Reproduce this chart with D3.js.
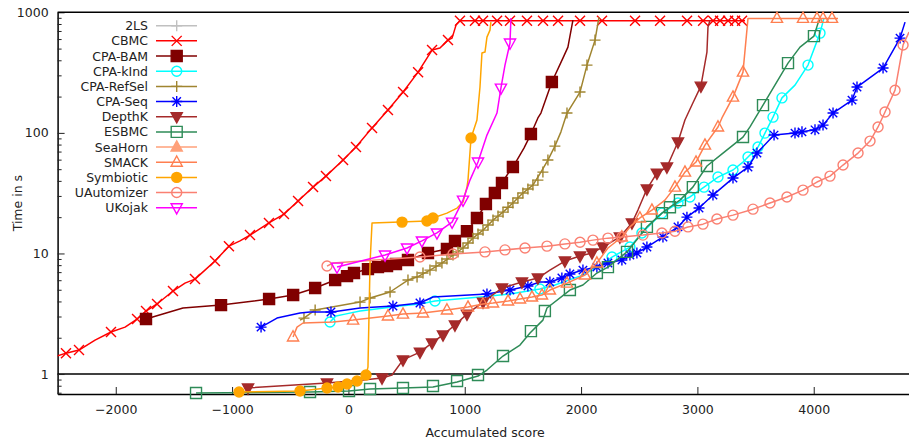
<!DOCTYPE html>
<html><head><meta charset="utf-8">
<script src="https://cdn.jsdelivr.net/npm/d3@7"></script>
<style>
body{margin:0;background:#fff;}
text{font-family:"DejaVu Sans",sans-serif;fill:#222;}
</style>
</head><body>
<svg id="chart" width="909" height="444"></svg>
<script>
const toolNames = ["2LS","CBMC","CPA-BAM","CPA-kInd","CPA-RefSel","CPA-Seq","DepthK","ESBMC","SeaHorn","SMACK","Symbiotic","UAutomizer","UKojak"];
const toolColors = ["#c0c0c0","#ff0000","#800000","#00ffff","#a08530","#0000ff","#a52a2a","#2e8b57","#ffa07a","#ff7f50","#ffa500","#fa8072","#ff00ff"];
const toolSymbols = ["plus","cross","squareF","circle","plus","star","triDownF","square","triUpF","triUp","circleF","circle","triDown"];
const xTickValues = [-2000,-1000,0,1000,2000,3000,4000];
const yTickValues = [1,10,100,1000];
const yMinorTicks = [0.7,0.8,0.9,2,3,4,5,6,7,8,9,20,30,40,50,60,70,80,90,200,300,400,500,600,700,800,900];

// [accumulated score, time in s]
const twoLsLine = [];
const twoLsMarks = [];
const cbmcLine = [[-2505,1.41],[-2428,1.49],[-2316,1.58],[-2178,1.91],[-2041,2.23],[-1920,2.45],[-1817,2.86],[-1740,3.33],[-1645,3.81],[-1508,4.88],[-1405,5.68],[-1319,6.13],[-1233,7.28],[-1147,8.65],[-1027,11.5],[-932,12.7],[-846,14.2],[-683,17.9],[-554,21.2],[-433,27.2],[-304,35.5],[-193,43.8],[-46,59.5],[65,76.3],[203,110],[340,155],[470,218],[599,319],[719,486],[787,505],[856,588],[891,611],[925,783],[959,850],[3409,850]];
const cbmcMarks = [[-2428,1.49],[-2316,1.58],[-2041,2.23],[-1817,2.86],[-1740,3.33],[-1645,3.81],[-1508,4.88],[-1319,6.13],[-1147,8.65],[-1027,11.5],[-846,14.2],[-683,17.9],[-554,21.2],[-433,27.2],[-304,35.5],[-193,43.8],[-46,59.5],[65,76.3],[203,110],[340,155],[470,218],[599,319],[719,486],[856,588],[959,850],[1088,850],[1157,850],[1278,850],[1389,850],[1535,850],[1673,850],[1802,850],[1991,850],[2180,850],[2464,850],[2679,850],[2911,850],[3049,850],[3135,850],[3195,850],[3264,850],[3324,850],[3384,850]];
const bamLine = [[-1740,2.86],[-1422,3.53],[-1095,3.73],[-682,4.19],[-475,4.52],[-286,5.17],[-114,6.02],[-12,6.49],[48,6.88],[168,7.42],[254,7.71],[332,7.86],[409,8.17],[512,8.82],[684,10.1],[847,10.9],[916,12.7],[1019,15.3],[1105,19.7],[1182,25.7],[1259,31.7],[1320,38.4],[1380,47.3],[1414,52.1],[1449,59.5],[1509,74.8],[1569,97.8],[1629,133],[1655,146],[1749,264],[1844,417],[1887,514],[1930,861]];
const bamMarks = [[-1740,2.86],[-1095,3.73],[-682,4.19],[-475,4.52],[-286,5.17],[-114,6.02],[-12,6.49],[48,6.88],[168,7.42],[254,7.71],[332,7.86],[409,8.17],[512,8.82],[684,10.1],[847,10.9],[916,12.7],[1019,15.3],[1105,19.7],[1182,25.7],[1259,31.7],[1320,38.4],[1414,52.1],[1569,97.8],[1749,264]];
const kindLine = [[-158,2.70],[-107,3.03],[-29,3.14],[100,3.33],[444,3.66],[615,3.81],[744,4.03],[1131,4.35],[1389,4.61],[1646,5.07],[1775,5.47],[1991,6.49],[2163,7.86],[2266,9.34],[2420,11.3],[2523,14.8],[2695,21.6],[2833,26.2],[2936,29.4],[3057,35.5],[3177,43.0],[3306,49.2],[3392,57.3],[3435,63.0],[3521,76.3],[3581,99.6],[3650,135],[3727,195],[3839,249],[3951,365],[4054,672],[4088,895]];
const kindMarks = [[-158,2.70],[744,4.03],[1646,5.07],[2266,9.34],[2420,11.3],[2523,14.8],[2695,21.6],[2833,26.2],[2936,29.4],[3057,35.5],[3177,43.0],[3306,49.2],[3435,63.0],[3521,76.3],[3581,99.6],[3650,135],[3727,195],[3951,365],[4054,672]];
const refselLine = [[-416,2.80],[-382,2.91],[-286,3.40],[-141,3.59],[100,3.95],[186,4.27],[358,4.79],[512,6.02],[590,6.37],[701,7.28],[804,8.33],[899,9.70],[985,11.1],[1071,13.4],[1157,15.6],[1243,18.9],[1329,22.0],[1414,26.2],[1500,31.7],[1586,36.9],[1655,47.3],[1715,59.5],[1775,77.7],[1827,102],[1879,146],[1991,218],[2051,365],[2120,588],[2154,912]];
const refselMarks = [[-382,2.91],[-286,3.40],[100,3.95],[186,4.27],[358,4.79],[512,6.02],[590,6.37],[641,6.88],[701,7.28],[753,7.86],[804,8.33],[847,8.99],[899,9.70],[942,10.3],[985,11.1],[1028,12.2],[1071,13.4],[1114,14.5],[1157,15.6],[1200,17.2],[1243,18.9],[1286,20.4],[1329,22.0],[1372,24.2],[1414,26.2],[1457,28.8],[1500,31.7],[1543,34.2],[1586,36.9],[1629,40.6],[1672,47.3],[1715,59.5],[1775,77.7],[1879,146],[1991,218],[2051,365],[2120,588]];
const seqLine = [[-751,2.45],[-614,2.91],[-416,3.21],[-330,3.27],[-141,3.27],[100,3.53],[383,3.66],[615,3.88],[727,4.35],[1191,4.61],[1389,4.97],[1543,5.37],[1646,5.79],[1732,5.79],[1835,6.25],[1904,6.75],[2016,7.28],[2136,7.71],[2231,8.33],[2351,8.82],[2420,9.70],[2480,10.1],[2566,11.3],[2704,13.7],[2833,16.6],[2910,20.0],[3014,23.8],[3134,30.5],[3306,42.2],[3435,52.1],[3512,68.0],[3659,95.9],[3839,99.6],[3899,102],[4011,106],[4080,116],[4166,146],[4329,187],[4372,240],[4596,345],[4742,611],[4785,829]];
const seqMarks = [[-751,2.45],[-150,3.27],[383,3.66],[615,3.88],[1191,4.61],[1389,4.97],[1543,5.37],[1732,5.79],[1835,6.25],[1904,6.75],[2016,7.28],[2136,7.71],[2231,8.33],[2351,8.82],[2420,9.70],[2480,10.1],[2566,11.3],[2704,13.7],[2833,16.6],[2910,20.0],[3014,23.8],[3134,30.5],[3306,42.2],[3435,52.1],[3512,68.0],[3659,95.9],[3839,99.6],[3899,102],[4011,106],[4080,116],[4166,146],[4329,187],[4372,240],[4596,345],[4742,611]];
const depthkLine = [[-889,0.765],[-184,0.842],[126,0.892],[289,0.927],[375,0.981],[469,1.31],[615,1.52],[719,1.81],[813,2.11],[916,2.55],[1019,3.14],[1157,3.95],[1320,5.17],[1492,5.79],[1629,6.25],[1732,7.28],[1861,8.65],[1991,9.52],[2094,10.1],[2188,11.3],[2334,13.7],[2437,17.9],[2489,22.9],[2566,34.2],[2652,46.4],[2738,52.1],[2833,83.9],[2893,128],[2961,177],[3030,244],[3082,468],[3091,754],[3108,861]];
const depthkMarks = [[-863,0.765],[-184,0.842],[289,0.927],[469,1.31],[615,1.52],[719,1.81],[813,2.11],[916,2.55],[1019,3.14],[1157,3.95],[1320,5.17],[1492,5.79],[1629,6.25],[1861,8.65],[1991,9.52],[2094,10.1],[2188,11.3],[2334,13.7],[2437,17.9],[2566,34.2],[2652,46.4],[2738,52.1],[2833,83.9],[3030,244]];
const esbmcLine = [[-1310,0.696],[-330,0.709],[5,0.723],[186,0.751],[469,0.765],[727,0.780],[934,0.858],[1114,0.963],[1191,1.08],[1329,1.41],[1475,1.74],[1561,2.19],[1672,2.80],[1707,3.53],[1904,4.97],[2016,5.47],[2136,6.88],[2231,7.71],[2395,10.3],[2566,16.6],[2695,21.6],[2764,24.2],[2850,27.7],[2961,35.5],[3082,53.1],[3220,68.0],[3392,92.3],[3452,112],[3564,170],[3779,379],[3882,514],[4002,635],[4037,813],[4054,861]];
const esbmcMarks = [[-1310,0.696],[-330,0.709],[5,0.723],[186,0.751],[469,0.765],[727,0.795],[934,0.875],[1114,0.981],[1329,1.41],[1569,2.27],[1689,3.33],[1904,4.97],[2136,6.88],[2231,7.71],[2395,10.3],[2566,16.6],[2695,21.6],[2764,24.2],[2850,27.7],[2961,35.5],[3082,53.1],[3392,92.3],[3564,170],[3779,379],[4002,635]];
const seahornLine = [];
const seahornMarks = [];
const smackLine = [[-476,2.03],[-442,2.45],[-390,2.65],[-132,2.70],[40,2.80],[340,3.03],[469,3.14],[641,3.21],[847,3.40],[1028,3.59],[1157,3.81],[1243,3.88],[1372,4.03],[1475,4.19],[1578,4.35],[1664,4.52],[1732,4.97],[1879,5.68],[2034,6.62],[2136,8.33],[2231,11.1],[2351,13.7],[2420,16.6],[2506,19.7],[2609,22.9],[2721,27.7],[2807,35.5],[2893,47.3],[2988,57.3],[3065,79.2],[3177,112],[3211,133],[3306,198],[3392,319],[3435,890],[4209,890]];
const smackMarks = [[-476,2.03],[40,2.80],[340,3.03],[469,3.14],[641,3.21],[847,3.40],[1028,3.59],[1157,3.81],[1243,3.88],[1372,4.03],[1475,4.19],[1578,4.35],[1664,4.52],[1732,4.97],[1879,5.68],[2034,6.62],[2136,8.33],[2351,13.7],[2506,19.7],[2609,22.9],[2807,35.5],[2893,47.3],[2988,57.3],[3065,79.2],[3177,112],[3306,198],[3392,319],[3684,890],[3908,890],[4028,890],[4080,890],[4157,890]];
const symbLine = [[-966,0.709],[-940,0.709],[-416,0.723],[-184,0.765],[-89,0.780],[-12,0.826],[74,0.875],[151,0.981],[168,1.14],[186,8.33],[203,17.9],[444,18.2],[675,18.6],[727,19.7],[847,21.6],[934,23.8],[985,26.7],[1019,35.5],[1028,40.6],[1054,90.6],[1105,128],[1131,240],[1148,459],[1174,468],[1191,623],[1217,712],[1225,829]];
const symbMarks = [[-940,0.709],[-416,0.723],[-184,0.765],[-89,0.780],[-12,0.826],[74,0.875],[151,0.981],[461,18.2],[675,18.6],[727,19.7],[1054,90.6]];
const uautoLine = [[-184,7.86],[-132,8.33],[615,9.34],[899,9.89],[1174,10.3],[1346,10.7],[1518,11.1],[1707,11.5],[1861,12.0],[1991,12.4],[2102,12.9],[2231,13.4],[2351,13.7],[2532,14.2],[2695,14.8],[2807,15.3],[2919,16.6],[3048,17.5],[3168,19.3],[3306,20.8],[3478,23.3],[3624,26.2],[3770,29.4],[3908,33.5],[4028,39.1],[4140,43.8],[4252,54.1],[4381,68.0],[4484,85.5],[4553,112],[4613,149],[4699,226],[4768,535],[4819,685]];
const uautoMarks = [[-184,7.86],[615,9.34],[899,9.89],[1174,10.3],[1346,10.7],[1518,11.1],[1707,11.5],[1861,12.0],[1991,12.4],[2102,12.9],[2231,13.4],[2351,13.7],[2532,14.2],[2695,14.8],[2807,15.3],[2919,16.6],[3048,17.5],[3168,19.3],[3306,20.8],[3478,23.3],[3624,26.2],[3770,29.4],[3908,33.5],[4028,39.1],[4140,43.8],[4252,54.1],[4381,68.0],[4484,85.5],[4553,112],[4613,149],[4699,226],[4768,535]];
const ukojakLine = [[-98,7.71],[315,9.70],[504,11.1],[632,12.7],[761,14.8],[891,18.2],[985,27.7],[1045,40.6],[1114,57.3],[1191,95.9],[1277,146],[1311,235],[1346,365],[1389,556],[1397,895]];
const ukojakMarks = [[-98,7.71],[315,9.70],[504,11.1],[632,12.7],[761,14.8],[891,18.2],[985,27.7],[1114,57.3],[1311,235],[1389,556]];

const seriesLines = [twoLsLine,cbmcLine,bamLine,kindLine,refselLine,seqLine,depthkLine,esbmcLine,seahornLine,smackLine,symbLine,uautoLine,ukojakLine];
const seriesMarks = [twoLsMarks,cbmcMarks,bamMarks,kindMarks,refselMarks,seqMarks,depthkMarks,esbmcMarks,seahornMarks,smackMarks,symbMarks,uautoMarks,ukojakMarks];

const series = toolNames.map((n,i)=>({name:n,color:toolColors[i],sym:toolSymbols[i],line:seriesLines[i],marks:seriesMarks[i]}));

const svg = d3.select("#chart");
const L = 57.6, R = 912.6, T = 12.3, B = 394;
const x = d3.scaleLinear().domain([-2500,4850]).range([L,R]);
const y = d3.scaleLog().domain([0.683,1000]).range([B,T]);

svg.append("defs").append("clipPath").attr("id","clip")
  .append("rect").attr("x",L).attr("y",T).attr("width",R-L).attr("height",B-T);

function symPath(s){
  const t = s.replace("F","");
  switch(t){
    case "plus": return "M-5.5,0H5.5M0,-5.5V5.5";
    case "cross": return "M-5,-5L5,5M-5,5L5,-5";
    case "star": return "M-5.5,0H5.5M0,-5.5V5.5M-4.2,-4.2L4.2,4.2M-4.2,4.2L4.2,-4.2";
    case "square": return "M-5.5,-5.5H5.5V5.5H-5.5Z";
    case "circle": return "M5,0A5,5 0 1,1 -5,0A5,5 0 1,1 5,0Z";
    case "triUp": return "M0,-6.2L5.6,4L-5.6,4Z";
    case "triDown": return "M0,6.2L5.6,-4L-5.6,-4Z";
  }
}
const isFilled = s => s.endsWith("F");

// y=1 reference line
svg.append("line").attr("x1",L).attr("x2",R).attr("y1",y(1)).attr("y2",y(1))
  .attr("stroke","#000").attr("stroke-width",1.5);

// axes
const xAxis = d3.axisBottom(x).tickValues(xTickValues).tickSizeInner(-7).tickSizeOuter(0).tickPadding(11).tickFormat(d3.format("d"));
const gx = svg.append("g").attr("transform",`translate(0,${B})`).call(xAxis);
const yAxis = d3.axisLeft(y).tickValues(yTickValues).tickSizeInner(-7).tickSizeOuter(0).tickPadding(9).tickFormat(d3.format("d"));
const gy = svg.append("g").attr("transform",`translate(${L},0)`).call(yAxis);
const yMinor = d3.axisLeft(y).tickValues(yMinorTicks).tickSizeInner(-4).tickSizeOuter(0).tickFormat("");
const gym = svg.append("g").attr("transform",`translate(${L},0)`).call(yMinor);
gym.select(".domain").remove();
[gx,gy].forEach(g=>{
  g.selectAll("text").attr("font-size","12.5px").attr("fill","#222").attr("font-family","DejaVu Sans, sans-serif");
  g.select(".domain").attr("stroke","#000").attr("stroke-width",1.5);
  g.selectAll(".tick line").attr("stroke","#222").attr("stroke-width",1);
});
gym.selectAll(".tick line").attr("stroke","#222").attr("stroke-width",1);
// top frame
svg.append("line").attr("x1",L).attr("x2",R).attr("y1",T).attr("y2",T).attr("stroke","#000").attr("stroke-width",1.5);
svg.append("line").attr("x1",R).attr("x2",R).attr("y1",T).attr("y2",B).attr("stroke","#000").attr("stroke-width",1.5);

svg.append("text").attr("x",(L+R)/2).attr("y",437).attr("text-anchor","middle").attr("font-size","12.5px").text("Accumulated score");
svg.append("text").attr("transform",`translate(22,${(T+B)/2}) rotate(-90)`).attr("text-anchor","middle").attr("font-size","12.5px").text("Time in s");

// series
const lineGen = d3.line().x(d=>x(d[0])).y(d=>y(d[1]));
const plot = svg.append("g");
series.forEach(s=>{
  const g = plot.append("g");
  if (s.line.length) g.append("path").attr("d",lineGen(s.line)).attr("fill","none")
    .attr("stroke",s.color).attr("stroke-width",1.5).attr("stroke-linejoin","round").attr("clip-path","url(#clip)");
  g.selectAll("path.m").data(s.marks).join("path").attr("class","m")
    .attr("transform",d=>`translate(${x(d[0])},${y(d[1])})`)
    .attr("d",symPath(s.sym))
    .attr("fill",isFilled(s.sym)?s.color:"none")
    .attr("stroke",s.color).attr("stroke-width",1.4);
});

// legend
const leg = svg.append("g");
series.forEach((s,i)=>{
  const cy = 25.7 + i*15.17;
  leg.append("text").attr("x",148).attr("y",cy+4.5).attr("text-anchor","end").attr("font-size","12.5px").text(s.name);
  leg.append("line").attr("x1",156).attr("x2",197).attr("y1",cy).attr("y2",cy).attr("stroke",s.color).attr("stroke-width",1.5);
  leg.append("path").attr("transform",`translate(176.7,${cy})`).attr("d",symPath(s.sym))
    .attr("fill",isFilled(s.sym)?s.color:"none").attr("stroke",s.color).attr("stroke-width",1.4);
});
</script>
</body></html>
